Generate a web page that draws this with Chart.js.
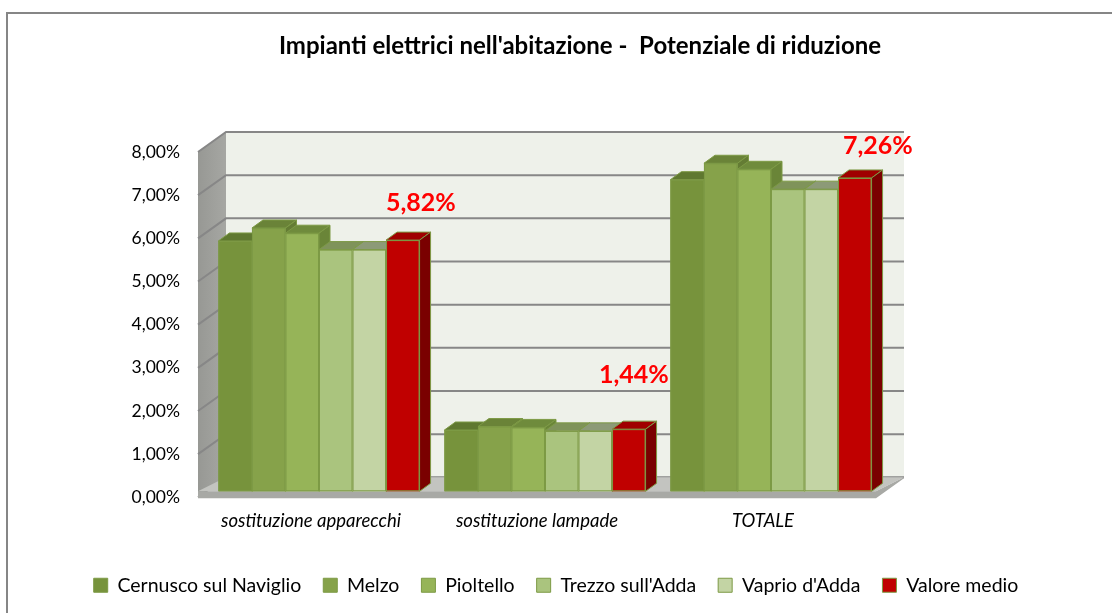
<!DOCTYPE html>
<html>
<head>
<meta charset="utf-8">
<script src="https://cdn.jsdelivr.net/npm/chart.js@4.4.1/dist/chart.umd.min.js"></script>
<style>
  body { margin: 0; background: #fff; }
  #wrap { width: 1112px; height: 613px; }
</style>
</head>
<body>
<div id="wrap"><canvas id="chart" width="1112" height="613"></canvas></div>
<script>
// Data (percent values)
const categories = ["sostituzione apparecchi", "sostituzione lampade", "TOTALE"];
const cernusco = [5.80, 1.42, 7.22];
const melzo = [6.10, 1.50, 7.60];
const pioltello = [5.98, 1.48, 7.46];
const trezzo = [5.60, 1.40, 7.00];
const vaprio = [5.60, 1.40, 7.00];
const valoreMedio = [5.82, 1.44, 7.26];
const tickValues = [0, 1, 2, 3, 4, 5, 6, 7, 8];
const tickLabels = ["0,00%", "1,00%", "2,00%", "3,00%", "4,00%", "5,00%", "6,00%", "7,00%", "8,00%"];
const chartTitle = "Impianti elettrici nell'abitazione -  Potenziale di riduzione";

const FONT = "Lato, 'Liberation Sans', sans-serif";

// colours: front, top, side
const seriesStyle = [
    { label: "Cernusco sul Naviglio", data: cernusco, front: "#77933c", top: "#5f7830", side: "#5a702d" },
    { label: "Melzo", data: melzo, front: "#86a24a", top: "#6a8338", side: "#647c34" },
    { label: "Pioltello", data: pioltello, front: "#96b458", top: "#6f8b3c", side: "#6a8538" },
    { label: "Trezzo sull'Adda", data: trezzo, front: "#aac47e", top: "#7f935a", side: "#7a8d56" },
    { label: "Vaprio d'Adda", data: vaprio, front: "#c3d4a4", top: "#8c9a77", side: "#889572" },
    { label: "Valore medio", data: valoreMedio, front: "#c00000", top: "#a00000", side: "#7a0000" },
];

// per-label nudges for the red value labels (Excel 3D placement)
const labelShift = [[18, -37], [5, -54], [23, -32]];

const FRONT = { dx: -8, dy: 6 };
const BACK = { dx: 20, dy: -14 };
const BAR_DEPTH = { dx: 11, dy: -8 };
const EDGE = "#7d9a45";

function fmtPct(v) {
    return v.toFixed(2).replace(".", ",") + "%";
}

// walls, floor, gridlines, title and the 3D bars
const boxPlugin = {
    id: "box3d",
    beforeDraw(chart) {
        const ctx = chart.ctx;
        ctx.save();
        ctx.strokeStyle = "#868686";
        ctx.lineWidth = 2;
        ctx.strokeRect(7, 13, 1300, 800);
        // title (Excel places it a bit right of centre)
        ctx.fillStyle = "#000";
        ctx.font = "bold 24px " + FONT;
        ctx.textAlign = "center";
        ctx.textBaseline = "middle";
        ctx.fillText(chartTitle, 580, 46);
        ctx.restore();
    },
    beforeDatasetsDraw(chart) {
        const ctx = chart.ctx;
        const { left, right } = chart.chartArea;
        const y = chart.scales.y;
        const y0 = y.getPixelForValue(0);
        const yTop = y.getPixelForValue(8);
        ctx.save();
        // back wall
        ctx.fillStyle = "#eef1ea";
        ctx.fillRect(left + BACK.dx, yTop + BACK.dy, right - left, y0 - yTop);
        // left wall
        const g = ctx.createLinearGradient(left + FRONT.dx, 0, left + BACK.dx, 0);
        g.addColorStop(0, "#979894");
        g.addColorStop(1, "#a6a7a3");
        ctx.fillStyle = g;
        ctx.beginPath();
        ctx.moveTo(left + FRONT.dx, yTop + FRONT.dy);
        ctx.lineTo(left + FRONT.dx, y0 + FRONT.dy);
        ctx.lineTo(left + BACK.dx, y0 + BACK.dy);
        ctx.lineTo(left + BACK.dx, yTop + BACK.dy);
        ctx.closePath();
        ctx.fill();
        // gridlines
        ctx.strokeStyle = "#878787";
        ctx.lineWidth = 2;
        tickValues.forEach(v => {
            const py = y.getPixelForValue(v);
            ctx.beginPath();
            ctx.moveTo(left + FRONT.dx, py + FRONT.dy);
            ctx.lineTo(left + BACK.dx, py + BACK.dy);
            ctx.lineTo(right + BACK.dx, py + BACK.dy);
            ctx.stroke();
        });
        // floor top
        ctx.fillStyle = "#c3c4c0";
        ctx.beginPath();
        ctx.moveTo(left + FRONT.dx, y0);
        ctx.lineTo(right + FRONT.dx, y0);
        ctx.lineTo(right + BACK.dx, y0 + BACK.dy);
        ctx.lineTo(left + BACK.dx, y0 + BACK.dy);
        ctx.closePath();
        ctx.fill();
        // floor front + side
        ctx.fillStyle = "#a8a9a5";
        ctx.beginPath();
        ctx.moveTo(left + FRONT.dx, y0);
        ctx.lineTo(right + FRONT.dx, y0);
        ctx.lineTo(right + BACK.dx, y0 + BACK.dy);
        ctx.lineTo(right + BACK.dx, y0 + BACK.dy + 1);
        ctx.lineTo(right + FRONT.dx, y0 + 7);
        ctx.lineTo(left + FRONT.dx, y0 + 7);
        ctx.closePath();
        ctx.fill();
        ctx.restore();
    },
    afterDatasetsDraw(chart) {
        const ctx = chart.ctx;
        ctx.save();
        ctx.lineWidth = 1;
        ctx.strokeStyle = EDGE;
        // paint left to right so each bar hides the side of the one before
        categories.forEach((c, ci) => {
            seriesStyle.forEach((st, di) => {
                const bar = chart.getDatasetMeta(di).data[ci];
                const { x, y, width, base } = bar.getProps(["x", "y", "width", "base"], true);
                const l = x - width / 2, r = x + width / 2;
                // front face
                ctx.fillStyle = st.front;
                ctx.fillRect(l, y, width, base - y);
                ctx.strokeRect(l + 0.5, y + 0.5, width - 1, base - y - 1);
                // top face
                ctx.fillStyle = st.top;
                ctx.beginPath();
                ctx.moveTo(l, y);
                ctx.lineTo(r, y);
                ctx.lineTo(r + BAR_DEPTH.dx, y + BAR_DEPTH.dy);
                ctx.lineTo(l + BAR_DEPTH.dx, y + BAR_DEPTH.dy);
                ctx.closePath();
                ctx.fill();
                ctx.stroke();
                // side face
                ctx.fillStyle = st.side;
                ctx.beginPath();
                ctx.moveTo(r, y);
                ctx.lineTo(r + BAR_DEPTH.dx, y + BAR_DEPTH.dy);
                ctx.lineTo(r + BAR_DEPTH.dx, base + BAR_DEPTH.dy);
                ctx.lineTo(r, base);
                ctx.closePath();
                ctx.fill();
                ctx.stroke();
            });
        });
        // value labels on the average series
        const avg = chart.getDatasetMeta(seriesStyle.length - 1);
        ctx.fillStyle = "#ff0000";
        ctx.font = "bold 25px " + FONT;
        ctx.textAlign = "center";
        ctx.textBaseline = "middle";
        avg.data.forEach((bar, i) => {
            ctx.fillText(fmtPct(valoreMedio[i]), bar.x + labelShift[i][0], bar.y + labelShift[i][1]);
        });
        ctx.restore();
    }
};

const datasets = seriesStyle.map(s => ({
    label: s.label,
    data: s.data,
    backgroundColor: s.front,
    borderColor: EDGE,
    borderWidth: 1,
}));

new Chart(document.getElementById("chart"), {
    type: "bar",
    data: { labels: categories, datasets: datasets },
    plugins: [boxPlugin],
    options: {
        responsive: false,
        animation: false,
        layout: { padding: { left: 8, right: 8, top: 146, bottom: 8 } },
        categoryPercentage: 0.89,
        barPercentage: 1.0,
        plugins: {
            title: { display: false },
            legend: {
                position: "bottom",
                labels: {
                    color: "#000",
                    font: { family: FONT, size: 19.5 },
                    boxWidth: 14,
                    boxHeight: 14,
                    padding: 22,
                    sort: (a, b) => a.datasetIndex - b.datasetIndex,
                },
            },
            tooltip: { enabled: false },
        },
        scales: {
            x: {
                grid: { display: false, drawTicks: false },
                border: { display: false },
                afterFit: s => { s.height += 2; },
                ticks: {
                    color: "#000",
                    padding: 19,
                    labelOffset: -8,
                    font: { family: FONT, size: 18.5, style: "italic" },
                },
            },
            y: {
                min: 0,
                max: 8,
                afterFit: s => { s.width = 198; },
                afterBuildTicks: s => { s.ticks = tickValues.map(v => ({ value: v })); },
                grid: { display: false, drawTicks: false },
                border: { display: false },
                ticks: {
                    color: "#000",
                    padding: 26,
                    labelOffset: 6,
                    font: { family: FONT, size: 17.5 },
                    callback: (v) => tickLabels[tickValues.indexOf(v)],
                },
            },
            y2: {
                position: "right",
                display: true,
                afterFit: s => { s.width = 220; },
                grid: { display: false, drawTicks: false },
                border: { display: false },
                ticks: { display: false },
            },
        },
    },
});
</script>
</body>
</html>
